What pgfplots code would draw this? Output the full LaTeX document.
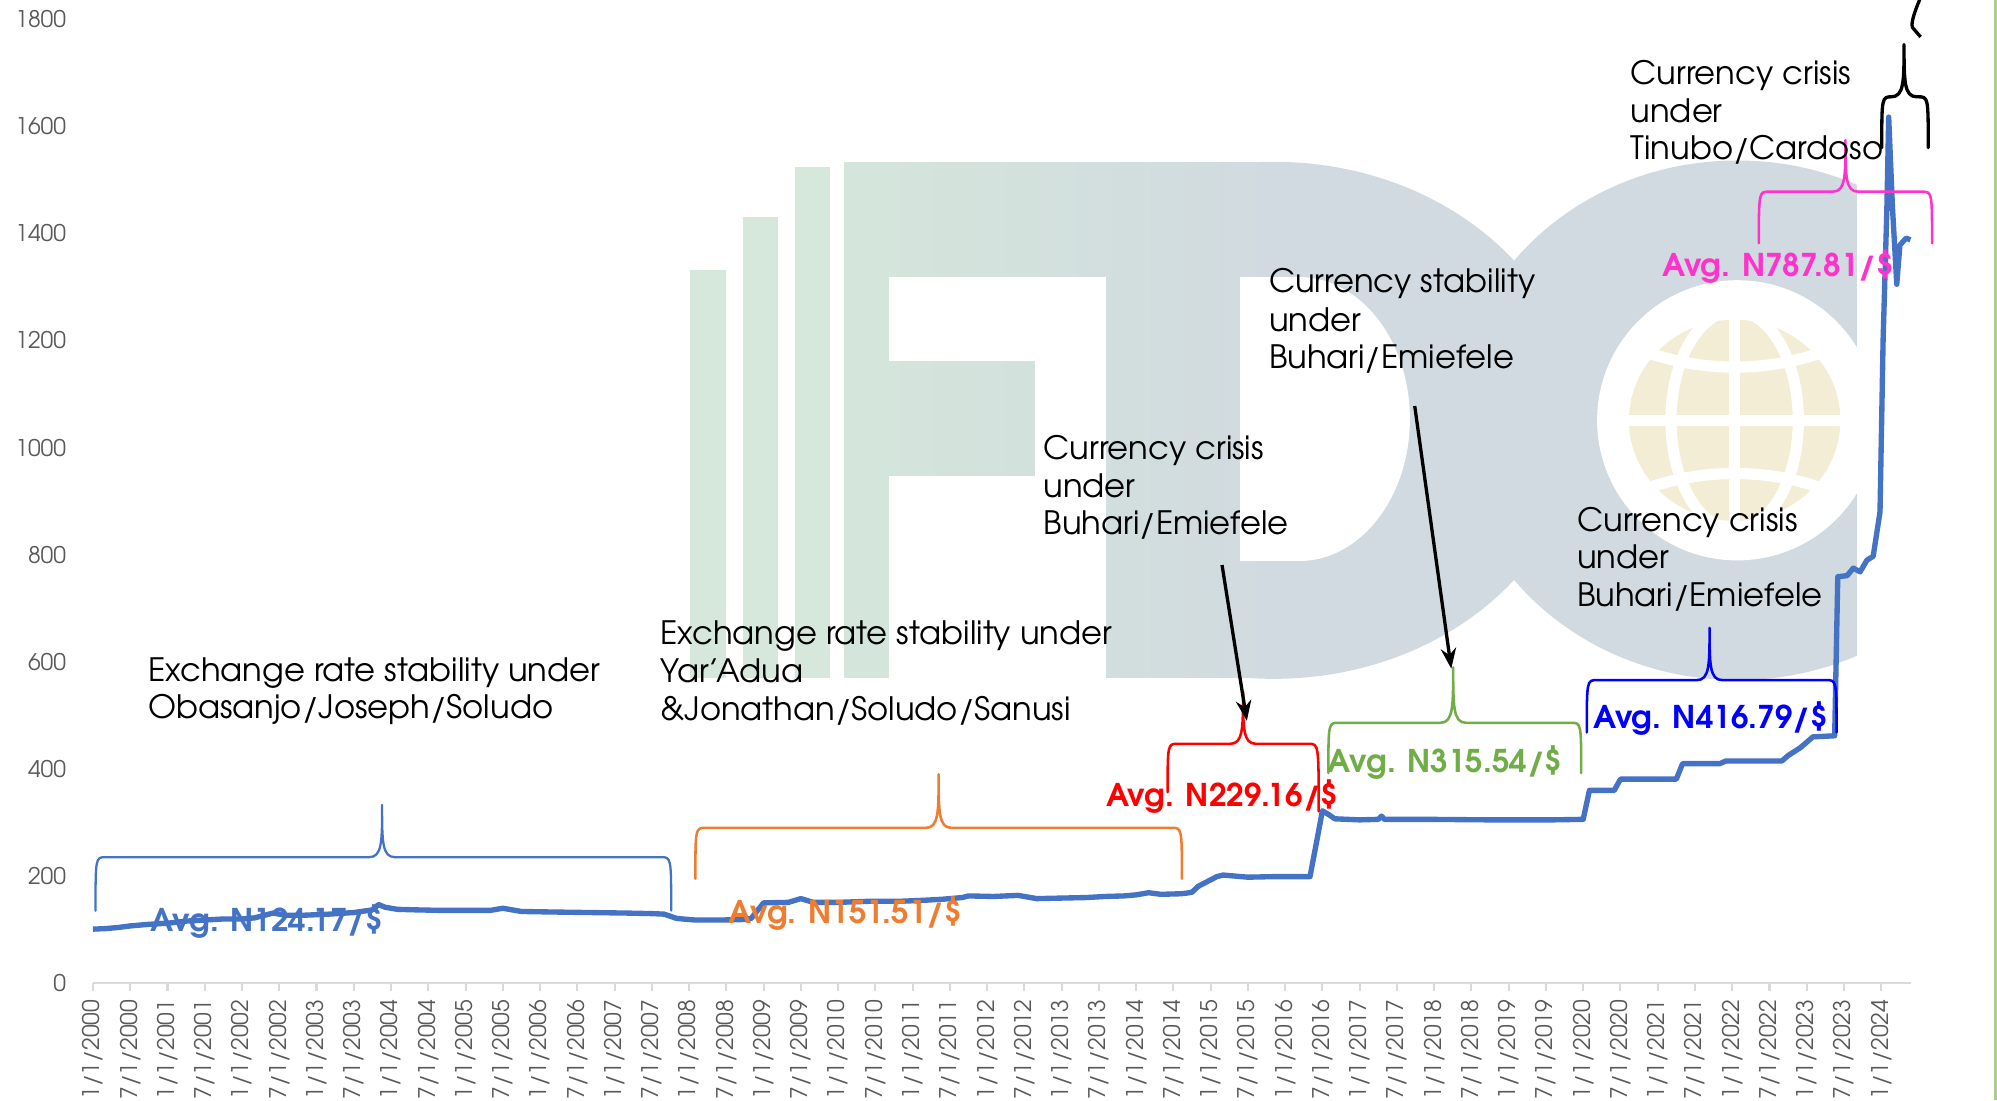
\documentclass[border=0pt]{standalone}
\usepackage{fontspec}
\setmainfont{texgyreadventor}[Extension=.otf, UprightFont=*-regular, BoldFont=*-bold, ItalicFont=*-italic, BoldItalicFont=*-bolditalic]
\usepackage{pgfplots}
\pgfplotsset{compat=1.18}
\usetikzlibrary{arrows.meta}
\definecolor{lineblue}{HTML}{4472C4}
\definecolor{bor}{HTML}{ED7D31}
\definecolor{bred}{HTML}{FF0000}
\definecolor{bgreen}{HTML}{70AD47}
\definecolor{bblue}{HTML}{0000FF}
\definecolor{bmag}{HTML}{FF33CC}
\definecolor{tickgray}{HTML}{595959}
\definecolor{axisgray}{HTML}{D9D9D9}
\definecolor{wmA}{HTML}{D5E8DB}
\definecolor{wmB}{HTML}{D4E6DB}
\definecolor{wmD}{HTML}{D1DAE0}
\definecolor{globe}{HTML}{F3EDD6}
\definecolor{edgegreen}{HTML}{A9D08E}
\newcommand{\cbrace}[9]{%
 \pgfmathsetmacro\ba{#2+8}%
 \pgfmathsetmacro\bb{#4-10}%
 \pgfmathsetmacro\bc{#4+10}%
 \pgfmathsetmacro\bd{#3-8}%
 \pgfmathsetmacro\be{#7-0.3*(#7-#8)}%
 \draw[#1, line width=#9, line join=round, line cap=round]
   (#2,#5) .. controls (#2,#7) and (#2,#7) .. (\ba,#7) -- (\bb,#7)
   .. controls (#4,#7) and (#4,\be) .. (#4,#8)
   .. controls (#4,\be) and (#4,#7) .. (\bc,#7) -- (\bd,#7)
   .. controls (#3,#7) and (#3,#7) .. (#3,#6);
}
\newcommand{\tline}[3]{\node[anchor=base west, inner sep=0pt, font=\fontsize{12.65}{14}\selectfont] at (#1,#2) {#3};}
\newcommand{\avg}[4]{\node[anchor=base west, inner sep=0pt, text=#1, font=\fontsize{12.3}{13}\selectfont\bfseries] at (#2,#3) {#4};}
\begin{document}
\begin{tikzpicture}
\useasboundingbox (0pt,0pt) rectangle (784pt,-432pt);
\clip (0pt,0pt) rectangle (784pt,-432pt);
% ---------- watermark ----------
\begin{scope}[x=0.5pt,y=-0.5pt]
\fill[wmA] (542,212) rectangle (570,532);
\fill[wmA] (583,170) rectangle (611,532);
\fill[wmA] (624,131) rectangle (652,532);
\fill[wmD] (1000,330) ellipse [x radius=240, y radius=203];
\shade[left color=wmB, right color=wmD] (663,127.5) rectangle (1000,532);
\begin{scope}
\clip (1100,100) rectangle (1458,560);
\fill[wmD] (1364,330) ellipse [x radius=222, y radius=204];
\end{scope}
\fill[white] (698,217.5) rectangle (868.5,283.5);
\fill[white] (813,283) rectangle (868.5,374);
\fill[white] (698,373.8) rectangle (868.5,545);
\fill[white] (973.6,217.5) rectangle (1021,440.5);
\begin{scope}
\clip (1020,200) rectangle (1200,460);
\fill[white] (1020,329) ellipse [x radius=87, y radius=111.5];
\end{scope}
\fill[white] (1364,330) circle [radius=110];
\fill[globe] (1362,330) ellipse [x radius=83, y radius=79];
\draw[white, line width=4.4pt] (1362,245) -- (1362,415);
\draw[white, line width=4.4pt] (1272,330) -- (1452,330);
\draw[white, line width=4.4pt] (1286,274) .. controls (1335,293) and (1389,293) .. (1438,274);
\draw[white, line width=4.4pt] (1286,386) .. controls (1335,367) and (1389,367) .. (1438,386);
\draw[white, line width=4.4pt] (1362,330) ellipse [x radius=50, y radius=86];
\fill[edgegreen] (1565.5,0) rectangle (1568,864);
\end{scope}
% ---------- chart ----------
\begin{axis}[
  at={(36.5pt,-386pt)}, anchor=south west,
  width=713.75pt, height=378.5pt, scale only axis,
  xmin=0, xmax=292.8, ymin=0, ymax=1800,
  enlargelimits=false, clip=false,
  axis lines*=left,
  x axis line style={draw=axisgray, line width=0.8pt},
  y axis line style={draw=none},
  xtick style={draw=axisgray, line width=0.8pt},
  ytick style={draw=none},
  tick align=outside, major tick length=3pt,
  ytick={0,200,...,1800},
  xtick={0,6,...,288},
  xticklabels={1/1/2000,7/1/2000,1/1/2001,7/1/2001,1/1/2002,7/1/2002,1/1/2003,7/1/2003,1/1/2004,7/1/2004,1/1/2005,7/1/2005,1/1/2006,7/1/2006,1/1/2007,7/1/2007,1/1/2008,7/1/2008,1/1/2009,7/1/2009,1/1/2010,7/1/2010,1/1/2011,7/1/2011,1/1/2012,7/1/2012,1/1/2013,7/1/2013,1/1/2014,7/1/2014,1/1/2015,7/1/2015,1/1/2016,7/1/2016,1/1/2017,7/1/2017,1/1/2018,7/1/2018,1/1/2019,7/1/2019,1/1/2020,7/1/2020,1/1/2021,7/1/2021,1/1/2022,7/1/2022,1/1/2023,7/1/2023,1/1/2024},
  x tick label style={rotate=90, anchor=east, text=tickgray, font=\fontsize{9}{10}\selectfont},
  y tick label style={text=tickgray, font=\fontsize{9}{10}\selectfont},
  yticklabel style={xshift=-4pt},
  /pgf/number format/assume math mode=true,
  /pgf/number format/1000 sep={},
]
\addplot[lineblue, line width=2.1pt, line join=round] coordinates {
(0,101) (2,102) (4,104) (6,107) (9,110) (12,112) (15,116) (18,118) (21,120) (24,120)
(26,122) (28,128) (29,131) (31,127) (34,127) (38,129) (42,132) (45,137) (46,147) (47,142)
(49,138) (52,137) (56,136) (60,136) (64,136) (66,140) (67,138) (69,134) (74,133) (80,132)
(86,131) (90,130) (92,129) (94,121) (97,118) (101,118) (105,119) (106,121) (108,150) (112,151)
(114,158) (116,151) (120,151) (125,153) (130,153) (134,155) (137,157) (140,160) (141,163) (145,162)
(149,164) (152,158) (156,159) (160,160) (163,162) (166,163) (168,165) (170,169) (172,166) (175,167)
(176,168) (177,170) (178,181) (179,187) (180,193) (181,199) (182,202) (186,198) (190,199) (196,199)
(197,260) (198,322) (199,315) (200,307) (204,305) (207,306) (207.5,312) (208,306) (215,306) (225,305)
(235,305) (240,306) (241,360) (245,360) (246,381) (255,381) (256,410) (262,410) (263,415) (272,415)
(273,425) (275,440) (277,460) (280.5,462) (281,759) (282.5,761) (283.5,775) (284.6,768) (285.7,790) (286.7,797)
(287.8,880) (288.3,1201) (288.9,1443) (289.2,1617) (289.8,1450) (290.5,1305) (291,1378) (292,1391) (292.7,1388)
};
\end{axis}
% ---------- annotations ----------
\begin{scope}[x=0.5pt,y=-0.5pt]
\cbrace{lineblue}{75}{527}{300}{715}{715}{673}{632}{0.9pt}
\cbrace{bor}{546}{928}{737}{690}{690}{650}{608}{1pt}
\cbrace{bred}{916.8}{1035.4}{976}{622}{637}{584}{543}{1pt}
\cbrace{bgreen}{1043}{1241.5}{1141}{607}{607}{567.5}{524}{1pt}
\cbrace{bblue}{1245.9}{1442}{1342.3}{575}{575}{534}{493}{1pt}
\cbrace{bmag}{1381}{1517}{1449}{191}{191}{150.5}{110}{1pt}
\cbrace{black}{1477.5}{1514}{1495}{116}{116}{76}{35}{1.3pt}
\draw[black, line width=1.3pt] (1508,-2) .. controls (1502,12) and (1500,20) .. (1502,22) -- (1508,29);
\draw[black, line width=1.3pt, -{Stealth[length=8pt, width=6pt]}] (959.5,443.6) -- (979,566);
\draw[black, line width=1.3pt, -{Stealth[length=8pt, width=6pt]}] (1110.8,318.8) -- (1139.5,525);
\tline{116}{535}{Exchange rate stability under}
\tline{116}{564}{Obasanjo/Joseph/Soludo}
\tline{518}{506}{Exchange rate stability under}
\tline{518}{536}{Yar’Adua}
\tline{518}{566}{\&Jonathan/Soludo/Sanusi}
\tline{819}{361}{Currency crisis}
\tline{819}{391}{under}
\tline{819}{420}{Buhari/Emiefele}
\tline{996}{230}{Currency stability}
\tline{996}{260}{under}
\tline{996}{289}{Buhari/Emiefele}
\tline{1238}{417}{Currency crisis}
\tline{1238}{446}{under}
\tline{1238}{476}{Buhari/Emiefele}
\tline{1280}{66}{Currency crisis}
\tline{1280}{96}{under}
\tline{1280}{125}{Tinubo/Cardoso}
\avg{lineblue}{118}{731.5}{Avg. N124.17/\$}
\avg{bor}{571.6}{725}{Avg. N151.51/\$}
\avg{bred}{868}{633.4}{Avg. N229.16/\$}
\avg{bgreen}{1042}{606.7}{Avg. N315.54/\$}
\avg{bblue}{1250.4}{571.9}{Avg. N416.79/\$}
\avg{bmag}{1304.7}{217.3}{Avg. N787.81/\$}
\end{scope}
\end{tikzpicture}
\end{document}
